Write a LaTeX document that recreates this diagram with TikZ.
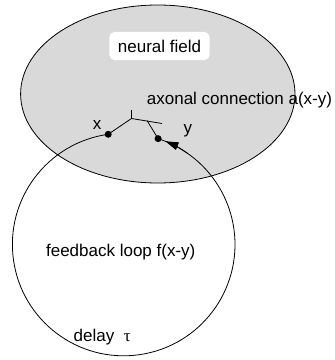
\documentclass[tikz,border=0pt]{standalone}
\usepackage{fontspec}
\setmainfont{Liberation Sans}
\newfontfamily\greekserif{Liberation Serif}
\usetikzlibrary{arrows.meta}
\begin{document}
\begin{tikzpicture}[x=1pt,y=1pt,line width=0.8pt,
  lbl/.style={font=\fontsize{17}{20}\selectfont, inner sep=0pt},
  dot/.style={circle, fill=black, inner sep=0pt, minimum size=7pt},
  fieldbox/.style={lbl, fill=white, rounded corners=5pt, inner xsep=8.5pt, inner ysep=7.8pt}]
\useasboundingbox (0,0) rectangle (335,360);
% neural field
\draw[fill=black!15] (157.8,266) ellipse [x radius=137.2, y radius=89];
\node[fieldbox] (nf) at (159.5,314) {neural field};
% feedback loop circle
\coordinate (cc) at (123.7,115.5);
\path (cc) ++(98:111.3) node[dot] (x) {};
\path (cc) ++(72:111.3) node[dot] (y) {};
\draw (x.center) arc[start angle=98, end angle=432, radius=111.3];
\draw[-{Triangle[length=13pt,width=8pt]}] (cc) ++(55:111.3) arc[start angle=55, end angle=68, radius=111.3];
% axonal connection
\coordinate (k) at (131.5,241.5);
\coordinate (kb) at (131.5,250);
\coordinate (kr) at (162,236.5);
\coordinate (km) at (147,239.5);
\draw (x.center) -- (k) -- (kb);
\draw (k) -- (kr);
\draw (km) -- (y.center);
% labels
\node[lbl, anchor=base west] (ax) at (146.5,256) {axonal connection a(x-y)};
\node[lbl, anchor=base] (xl) at (97,230) {x};
\node[lbl, anchor=base] (yl) at (188,226) {y};
\node[lbl, anchor=base west] (fb) at (45.7,103.3) {feedback loop f(x-y)};
\node[lbl, anchor=base west] (dl) at (73.3,19) {delay\ \ {\greekserif τ}};
\end{tikzpicture}
\end{document}
